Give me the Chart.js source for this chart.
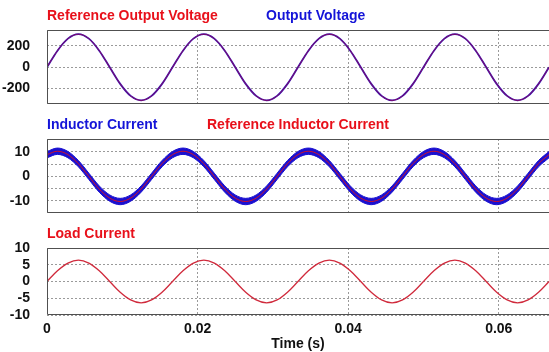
<!DOCTYPE html>
<html>
<head>
<meta charset="utf-8">
<script src="https://cdn.jsdelivr.net/npm/chart.js@4.4.1/dist/chart.umd.min.js"></script>
<style>
    body { margin: 0; background: #fff; width: 549px; height: 352px; overflow: hidden; position: relative; }
    canvas { position: absolute; left: 0; }
</style>
</head>
<body>
<canvas id="voltage" width="549" height="110" style="top:0"></canvas>
<canvas id="inductor" width="549" height="110" style="top:110px"></canvas>
<canvas id="load" width="549" height="132" style="top:220px"></canvas>
<script>
// sample times (s), 12 per 60 Hz cycle
const time = [0, 0.00139, 0.00278, 0.00417, 0.00556, 0.00694, 0.00833, 0.00972, 0.01111, 0.0125, 0.01389, 0.01528,
    0.01667, 0.01806, 0.01944, 0.02083, 0.02222, 0.02361, 0.025, 0.02639, 0.02778, 0.02917, 0.03056, 0.03194,
    0.03333, 0.03472, 0.03611, 0.0375, 0.03889, 0.04028, 0.04167, 0.04306, 0.04444, 0.04583, 0.04722, 0.04861,
    0.05, 0.05139, 0.05278, 0.05417, 0.05556, 0.05694, 0.05833, 0.05972, 0.06111, 0.0625, 0.06389, 0.06528, 0.06667];

const refVoltage = [0, 156, 269, 311, 269, 156, 0, -156, -269, -311, -269, -156,
    0, 156, 269, 311, 269, 156, 0, -156, -269, -311, -269, -156,
    0, 156, 269, 311, 269, 156, 0, -156, -269, -311, -269, -156,
    0, 156, 269, 311, 269, 156, 0, -156, -269, -311, -269, -156, 0];
const outVoltage = [0, 156, 269, 311, 269, 156, 0, -156, -269, -311, -269, -156,
    0, 156, 269, 311, 269, 156, 0, -156, -269, -311, -269, -156,
    0, 156, 269, 311, 269, 156, 0, -156, -269, -311, -269, -156,
    0, 156, 269, 311, 269, 156, 0, -156, -269, -311, -269, -156, 0];

const refInductor = [8.9, 10.3, 8.9, 5.2, 0, -5.2, -8.9, -10.3, -8.9, -5.2, 0, 5.2,
    8.9, 10.3, 8.9, 5.2, 0, -5.2, -8.9, -10.3, -8.9, -5.2, 0, 5.2,
    8.9, 10.3, 8.9, 5.2, 0, -5.2, -8.9, -10.3, -8.9, -5.2, 0, 5.2,
    8.9, 10.3, 8.9, 5.2, 0, -5.2, -8.9, -10.3, -8.9, -5.2, 0, 5.2, 8.9];
// ripple band of the measured inductor current
const inductorHigh = [10.2, 11.6, 10.2, 6.5, 1.3, -3.9, -7.6, -9.0, -7.6, -3.9, 1.3, 6.5,
    10.2, 11.6, 10.2, 6.5, 1.3, -3.9, -7.6, -9.0, -7.6, -3.9, 1.3, 6.5,
    10.2, 11.6, 10.2, 6.5, 1.3, -3.9, -7.6, -9.0, -7.6, -3.9, 1.3, 6.5,
    10.2, 11.6, 10.2, 6.5, 1.3, -3.9, -7.6, -9.0, -7.6, -3.9, 1.3, 6.5, 10.2];
const inductorLow = [7.6, 9.0, 7.6, 3.9, -1.3, -6.5, -10.2, -11.6, -10.2, -6.5, -1.3, 3.9,
    7.6, 9.0, 7.6, 3.9, -1.3, -6.5, -10.2, -11.6, -10.2, -6.5, -1.3, 3.9,
    7.6, 9.0, 7.6, 3.9, -1.3, -6.5, -10.2, -11.6, -10.2, -6.5, -1.3, 3.9,
    7.6, 9.0, 7.6, 3.9, -1.3, -6.5, -10.2, -11.6, -10.2, -6.5, -1.3, 3.9, 7.6];

const loadCurrent = [0, 3.2, 5.5, 6.4, 5.5, 3.2, 0, -3.2, -5.5, -6.4, -5.5, -3.2,
    0, 3.2, 5.5, 6.4, 5.5, 3.2, 0, -3.2, -5.5, -6.4, -5.5, -3.2,
    0, 3.2, 5.5, 6.4, 5.5, 3.2, 0, -3.2, -5.5, -6.4, -5.5, -3.2,
    0, 3.2, 5.5, 6.4, 5.5, 3.2, 0, -3.2, -5.5, -6.4, -5.5, -3.2, 0];

const xTicks = [0, 0.02, 0.04, 0.06];

const RED = "#e8101a";
const BLUE = "#1414d8";
const FONT = "'Liberation Sans', Arial, sans-serif";

function pts(values) {
    return values.map((v, i) => ({ x: time[i], y: v }));
}

// frame (top, left, bottom) and coloured captions above each panel
const panelFrame = {
    id: "panelFrame",
    afterDraw(chart, args, opts) {
        let ctx = chart.ctx;
        let a = chart.chartArea;
        ctx.save();
        ctx.strokeStyle = "#505050";
        ctx.lineWidth = 1;
        ctx.beginPath();
        ctx.moveTo(a.right, Math.round(a.top) + 0.5);
        ctx.lineTo(Math.round(a.left) + 0.5, Math.round(a.top) + 0.5);
        ctx.lineTo(Math.round(a.left) + 0.5, Math.round(a.bottom) - 0.5);
        ctx.lineTo(a.right, Math.round(a.bottom) - 0.5);
        ctx.stroke();
        ctx.font = "bold 14px " + FONT;
        ctx.textBaseline = "middle";
        ctx.textAlign = "left";
        (opts.labels || []).forEach(function (l) {
            ctx.fillStyle = l.color;
            ctx.fillText(l.text, a.left + l.dx, a.top - 14);
        });
        ctx.restore();
    }
};

const gridStyle = {
    color: "#9a9a9a",
    lineWidth: 1,
    drawTicks: false
};
const dotted = { display: false, dash: [2, 2] };

function xScale(showLabels) {
    return {
        type: "linear",
        min: 0,
        max: 0.06667,
        border: dotted,
        grid: gridStyle,
        afterBuildTicks: function (scale) {
            scale.ticks = xTicks.map(v => ({ value: v }));
        },
        ticks: {
            display: showLabels,
            autoSkip: false,
            padding: 6,
            color: "#111",
            font: { family: FONT, size: 14, weight: "bold" },
            maxRotation: 0,
            callback: v => String(v)
        },
        title: {
            display: showLabels,
            text: "Time (s)",
            color: "#111",
            font: { family: FONT, size: 14, weight: "bold" },
            padding: { top: 0, bottom: -1 }
        },
        afterFit: function (scale) {
            scale.height = showLabels ? 37 : 0;
            scale.paddingLeft = 0;
            scale.paddingRight = 0;
        }
    };
}

function yScale(min, max, step, labelFn) {
    return {
        min: min,
        max: max,
        border: dotted,
        grid: gridStyle,
        ticks: {
            stepSize: step,
            includeBounds: false,
            autoSkip: false,
            padding: 17,
            color: "#111",
            font: { family: FONT, size: 14, weight: "bold" },
            callback: labelFn
        },
        afterFit: function (scale) {
            scale.width = 47;
            scale.paddingTop = 0;
            scale.paddingBottom = 0;
        }
    };
}

function baseOptions(padTop, padBottom, showX, yOpts, labels) {
    return {
        responsive: false,
        animation: false,
        layout: { padding: { top: padTop, bottom: padBottom, left: 0, right: 0 } },
        elements: {
            point: { radius: 0 },
            line: { cubicInterpolationMode: "monotone" }
        },
        plugins: {
            legend: { display: false },
            tooltip: { enabled: false },
            panelFrame: { labels: labels }
        },
        scales: { x: xScale(showX), y: yOpts }
    };
}

new Chart(document.getElementById("voltage"), {
    type: "line",
    data: {
        datasets: [
            { label: "Reference Output Voltage", data: pts(refVoltage), borderColor: "rgba(230,0,20,0.5)", borderWidth: 1 },
            { label: "Output Voltage", data: pts(outVoltage), borderColor: "#2a12b8", borderWidth: 1.8 }
        ]
    },
    options: baseOptions(30, 6, false, yScale(-345, 350, 200, v => String(v)), [
        { text: "Reference Output Voltage", color: RED, dx: 0 },
        { text: "Output Voltage", color: BLUE, dx: 219 }
    ]),
    plugins: [panelFrame]
});

new Chart(document.getElementById("inductor"), {
    type: "line",
    data: {
        datasets: [
            { label: "Reference Inductor Current", data: pts(refInductor), borderColor: "#d0102a", borderWidth: 1 },
            { label: "Inductor Current", data: pts(inductorHigh), borderColor: "#1a10d0", borderWidth: 1, fill: "+1", backgroundColor: "#1a10d0" },
            { label: "Inductor Current (low)", data: pts(inductorLow), borderColor: "#1a10d0", borderWidth: 1 }
        ]
    },
    options: baseOptions(29, 7, false, yScale(-15, 15.3, 5, v => (Math.abs(v) > 12 ? null : (v % 10 === 0 ? String(v) : ""))), [
        { text: "Inductor Current", color: BLUE, dx: 0 },
        { text: "Reference Inductor Current", color: RED, dx: 160 }
    ]),
    plugins: [panelFrame]
});

new Chart(document.getElementById("load"), {
    type: "line",
    data: {
        datasets: [
            { label: "Load Current", data: pts(loadCurrent), borderColor: "#d02a3c", borderWidth: 1.3 }
        ]
    },
    options: baseOptions(28, 0, true, yScale(-10, 10, 5, v => String(v)), [
        { text: "Load Current", color: RED, dx: 0 }
    ]),
    plugins: [panelFrame]
});
</script>
</body>
</html>
